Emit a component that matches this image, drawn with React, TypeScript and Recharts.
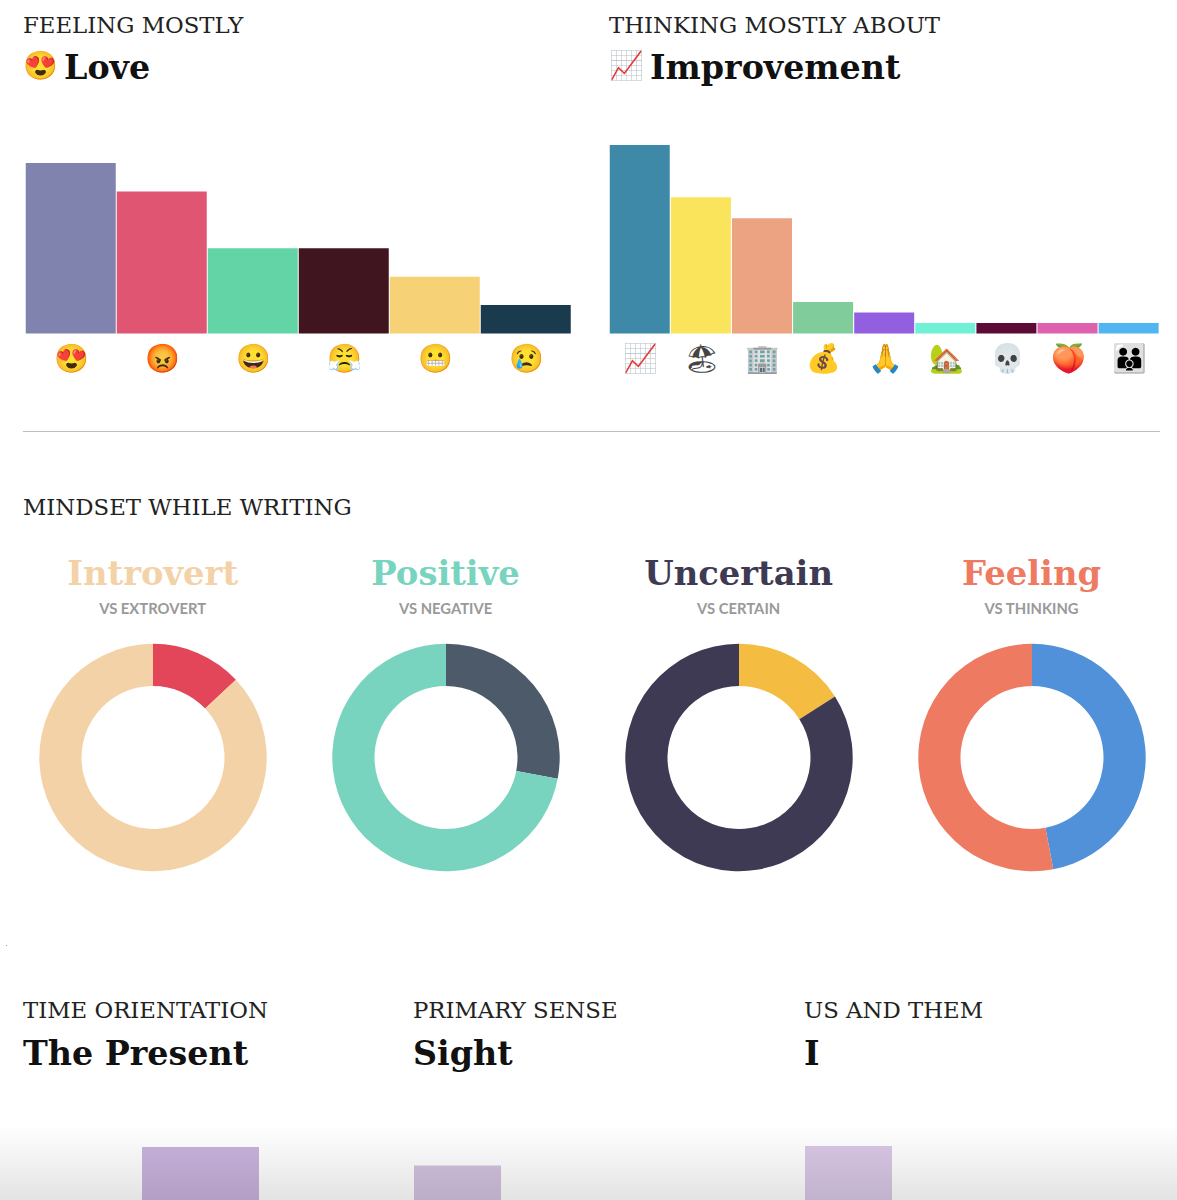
import React from 'react';
import { BarChart, Bar, XAxis, YAxis, Cell, PieChart, Pie } from 'recharts';

const feelingIcons = ['😍', '😡', '😀', '😤', '😬', '😢'];
const feelingValues = [6, 5, 3, 3, 2, 1];
const feelingColors = ['#8083ad', '#df5572', '#62d4a5', '#401520', '#f7d175', '#1a3a4e'];

const thinkingIcons = ['📈', '🏖', '🏢', '💰', '🙏', '🏡', '💀', '🍑', '👪'];
const thinkingValues = [18, 13, 11, 3, 2, 1, 1, 1, 1];
const thinkingColors = ['#3e88a8', '#f9e45c', '#eba381', '#80cd9b', '#925fe0', '#70f0d5', '#5d0a36', '#e060b0', '#50b5f0'];

const mindsetTitles = ['Introvert', 'Positive', 'Uncertain', 'Feeling'];
const mindsetSubs = ['VS EXTROVERT', 'VS NEGATIVE', 'VS CERTAIN', 'VS THINKING'];
const mindsetMinor = [13, 28, 16, 47];
const mindsetMinorColors = ['#e24658', '#4c5a69', '#f4bc40', '#5191d9'];
const mindsetMajorColors = ['#f3d2a7', '#79d4bf', '#3f3a54', '#ef7a62'];

const timeCategories = ['Past', 'Present', 'Future'];
const timeValues = [40, 99.5, 20];
const senseCategories = ['Sight', 'Sound', 'Touch', 'Taste'];
const senseValues = [90.5, 30, 20, 10];
const usCategories = ['I', 'We', 'You', 'They'];
const usValues = [100, 40, 30, 20];

const SERIF = '"DejaVu Serif", serif';
const abs = (left: number, top: number): React.CSSProperties => ({ position: 'absolute', left, top, whiteSpace: 'nowrap' });

function Label({ x, y, children }: { x: number; y: number; children: React.ReactNode }) {
  return <div style={{ ...abs(x, y), fontFamily: SERIF, fontSize: 22.8, lineHeight: '30px', color: '#222' }}>{children}</div>;
}
function Heading({ x, y, children }: { x: number; y: number; children: React.ReactNode }) {
  return <div style={{ ...abs(x, y), fontFamily: SERIF, fontWeight: 700, fontSize: 33.3, lineHeight: '44px', color: '#111' }}>{children}</div>;
}
function Emoji({ x, y, children }: { x: number; y: number; children: React.ReactNode }) {
  return <div style={{ ...abs(x, y), fontSize: 28, lineHeight: '36px' }}>{children}</div>;
}

function EmojiTick({ x, y, payload, size }: any) {
  return <text x={x + 1} y={y + 26} textAnchor="middle" fontSize={size} fill="#444">{payload.value}</text>;
}

function EmojiBars({ left, top, width, height, cats, vals, cols, max }: any) {
  const data = cats.map((c: string, i: number) => ({ c, v: vals[i] }));
  return (
    <div style={{ position: 'absolute', left, top }}>
      <BarChart width={width} height={height + 60} data={data} margin={{ top: 0, right: 0, bottom: 0, left: 0 }} barCategoryGap={0.75}>
        <XAxis dataKey="c" axisLine={false} tickLine={false} height={60} interval={0} tick={<EmojiTick size={28} />} />
        <YAxis hide domain={[0, max]} />
        <Bar dataKey="v" isAnimationActive={false}>
          {data.map((_: any, i: number) => <Cell key={i} fill={cols[i]} />)}
        </Bar>
      </BarChart>
    </div>
  );
}

function Donut({ cx, i }: { cx: number; i: number }) {
  const data = [{ v: mindsetMinor[i] }, { v: 100 - mindsetMinor[i] }];
  return (
    <div style={{ position: 'absolute', left: cx - 120, top: 637 }}>
      <PieChart width={240} height={241} margin={{ top: 0, right: 0, bottom: 0, left: 0 }}>
        <Pie data={data} dataKey="v" cx={120} cy={120.5} innerRadius={71.5} outerRadius={113.7} startAngle={90} endAngle={-270} stroke="none" isAnimationActive={false}>
          <Cell fill={mindsetMinorColors[i]} />
          <Cell fill={mindsetMajorColors[i]} />
        </Pie>
      </PieChart>
    </div>
  );
}

function PurpleBars({ left, width, cats, vals, fill }: any) {
  const data = cats.map((c: string, i: number) => ({ c, v: vals[i] }));
  return (
    <div style={{ position: 'absolute', left, top: 1146 }}>
      <BarChart width={width} height={204} data={data} margin={{ top: 0, right: 0, bottom: 0, left: 0 }} barCategoryGap={0}>
        <XAxis dataKey="c" hide />
        <YAxis hide domain={[0, 100]} />
        <Bar dataKey="v" fill={fill} isAnimationActive={false} />
      </BarChart>
    </div>
  );
}

const donutCenters = [152.6, 445.6, 738.6, 1031.6];

export default function App() {
  return (
    <div style={{ position: 'absolute', left: 0, top: 0, width: 1177, height: 1200, overflow: 'hidden', background: '#fff' }}>
      <Label x={23} y={10}>FEELING MOSTLY</Label>
      <Emoji x={23} y={48}>😍</Emoji>
      <Heading x={64} y={46}>Love</Heading>
      <Label x={609} y={10}>THINKING MOSTLY ABOUT</Label>
      <Emoji x={609} y={48}>📈</Emoji>
      <Heading x={650} y={46}>Improvement</Heading>

      <EmojiBars left={24.9} top={163} width={546} height={170.5} cats={feelingIcons} vals={feelingValues} cols={feelingColors} max={6} />
      <EmojiBars left={609} top={145} width={550} height={188.5} cats={thinkingIcons} vals={thinkingValues} cols={thinkingColors} max={18} />

      <div style={{ position: 'absolute', left: 23, top: 431, width: 1137, height: 1, background: '#bdbdbd' }} />

      <Label x={23} y={492}>MINDSET WHILE WRITING</Label>
      {mindsetTitles.map((t, i) => (
        <React.Fragment key={t}>
          <div style={{ ...abs(donutCenters[i] - 146, 551), width: 292, textAlign: 'center', fontFamily: SERIF, fontWeight: 700, fontSize: 33.8, lineHeight: '44px', color: mindsetMajorColors[i] }}>{t}</div>
          <div style={{ ...abs(donutCenters[i] - 146, 600), width: 292, textAlign: 'center', fontFamily: 'Lato, sans-serif', fontWeight: 700, fontSize: 14.8, lineHeight: '17px', color: '#999' }}>{mindsetSubs[i]}</div>
          <Donut cx={donutCenters[i]} i={i} />
        </React.Fragment>
      ))}

      <div style={{ position: 'absolute', left: 6, top: 945, width: 1, height: 1, background: '#999' }} />

      <Label x={23} y={995}>TIME ORIENTATION</Label>
      <Heading x={23} y={1032}>The Present</Heading>
      <Label x={413} y={995}>PRIMARY SENSE</Label>
      <Heading x={413} y={1032}>Sight</Heading>
      <Label x={804} y={995}>US AND THEM</Label>
      <Heading x={804} y={1032}>I</Heading>

      <PurpleBars left={25} width={351} cats={timeCategories} vals={timeValues} fill="#c9b3de" />
      <PurpleBars left={414} width={348} cats={senseCategories} vals={senseValues} fill="#d2c3e0" />
      <PurpleBars left={805} width={348} cats={usCategories} vals={usValues} fill="#d9c8e6" />

      <div style={{ position: 'absolute', left: 0, top: 1125, width: 1177, height: 75, background: 'linear-gradient(to bottom, rgba(0,0,0,0), rgba(0,0,0,0.11))' }} />
    </div>
  );
}
